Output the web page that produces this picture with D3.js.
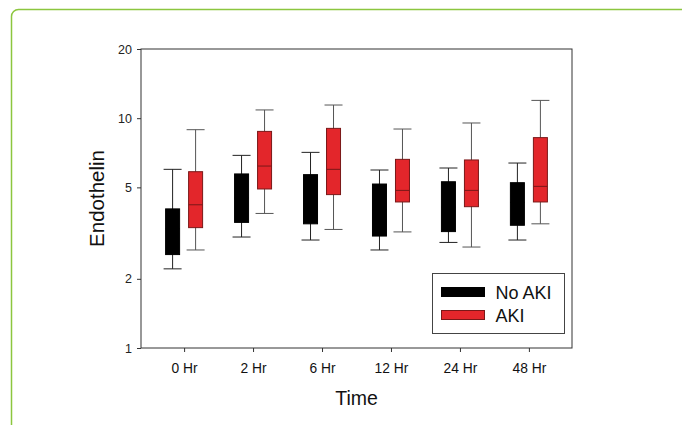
<!DOCTYPE html>
<html>
<head>
<meta charset="utf-8">
<script src="https://cdn.jsdelivr.net/npm/d3@7"></script>
<style>
  body { margin: 0; background: #fff; }
  text { font-family: "Liberation Sans", Arial, sans-serif; }
</style>
</head>
<body>
<div id="chart"></div>
<script>
const width = 682,
  height = 425;

const times = ["0 Hr", "2 Hr", "6 Hr", "12 Hr", "24 Hr", "48 Hr"];
const groups = ["No AKI", "AKI"];
const yTicks = [1, 2, 5, 10, 20];

// [whisker low, q1, median, q3, whisker high]
const noAki = [
  [2.21, 2.55, 3.3, 4.03, 5.99],
  [3.04, 3.52, 4.5, 5.72, 6.89],
  [2.95, 3.47, 4.5, 5.68, 7.1],
  [2.67, 3.07, 4.0, 5.17, 5.95],
  [2.88, 3.21, 4.1, 5.29, 6.07],
  [2.95, 3.42, 4.3, 5.24, 6.38]
];
const aki = [
  [2.67, 3.34, 4.2, 5.85, 8.91],
  [3.85, 4.92, 6.19, 8.76, 10.86],
  [3.28, 4.65, 5.99, 9.03, 11.41],
  [3.2, 4.32, 4.85, 6.62, 8.97],
  [2.75, 4.12, 4.85, 6.58, 9.53],
  [3.47, 4.32, 5.05, 8.23, 11.95]
];

const fills = ["#000000", "#e3262b"];
const strokes = ["#000000", "#7a1818"];
const whiskerColors = ["#222222", "#555555"];

const margin = { top: 49, right: 110, bottom: 77, left: 141 };
const plotW = width - margin.left - margin.right;
const plotH = height - margin.top - margin.bottom;

const svg = d3.select("#chart").append("svg").attr("width", width).attr("height", height);

// green card frame
svg
  .append("rect")
  .attr("x", 11.5)
  .attr("y", 9.5)
  .attr("width", 700)
  .attr("height", 440)
  .attr("rx", 7)
  .attr("fill", "none")
  .attr("stroke", "#8cc63f")
  .attr("stroke-width", 1.5);

const g = svg.append("g").attr("transform", `translate(${margin.left},${margin.top})`);

const x = d3.scalePoint().domain(times).range([0, plotW]).padding(0.625);
const y = d3.scaleLog().domain([1, 20]).range([plotH, 0]);

const offset = 11.5,
  boxW = 14,
  capW = 18;

// plot frame
g.append("rect")
  .attr("width", plotW)
  .attr("height", plotH)
  .attr("fill", "none")
  .attr("stroke", "#333")
  .attr("stroke-width", 1);

const yAxis = g
  .append("g")
  .call(d3.axisLeft(y).tickValues(yTicks).tickFormat(d3.format("d")).tickSize(4).tickPadding(5));
yAxis.select(".domain").remove();
yAxis.selectAll("line").attr("stroke", "#333");
yAxis.selectAll("text").attr("font-size", 12.5).attr("fill", "#222").style("font-family", "Liberation Sans, Arial, sans-serif");

const xAxis = g
  .append("g")
  .attr("transform", `translate(0,${plotH})`)
  .call(d3.axisBottom(x).tickSize(4).tickPadding(11));
xAxis.select(".domain").remove();
xAxis.selectAll("line").attr("stroke", "#333");
xAxis.selectAll("text").attr("font-size", 13.8).attr("fill", "#111").style("font-family", "Liberation Sans, Arial, sans-serif");

[noAki, aki].forEach((series, si) => {
  const dx = si === 0 ? -offset : offset;
  const bg = g
    .selectAll(`.box${si}`)
    .data(series.map((d, i) => ({ t: times[i], v: d })))
    .join("g")
    .attr("transform", d => `translate(${x(d.t) + dx},0)`);

  bg.append("line")
    .attr("y1", d => y(d.v[0]))
    .attr("y2", d => y(d.v[4]))
    .attr("stroke", whiskerColors[si]);
  [0, 4].forEach(k => {
    bg.append("line")
      .attr("x1", -capW / 2)
      .attr("x2", capW / 2)
      .attr("y1", d => y(d.v[k]))
      .attr("y2", d => y(d.v[k]))
      .attr("stroke", whiskerColors[si]);
  });
  bg.append("rect")
    .attr("x", -boxW / 2)
    .attr("width", boxW)
    .attr("y", d => y(d.v[3]))
    .attr("height", d => y(d.v[1]) - y(d.v[3]))
    .attr("fill", fills[si])
    .attr("stroke", strokes[si]);
  bg.append("line")
    .attr("x1", -boxW / 2)
    .attr("x2", boxW / 2)
    .attr("y1", d => y(d.v[2]))
    .attr("y2", d => y(d.v[2]))
    .attr("stroke", strokes[si]);
});

// axis titles
svg
  .append("text")
  .attr("transform", `translate(104,${margin.top + plotH / 2}) rotate(-90)`)
  .attr("text-anchor", "middle")
  .attr("font-size", 20.5)
  .attr("fill", "#111")
  .text("Endothelin");

svg
  .append("text")
  .attr("x", margin.left + plotW / 2)
  .attr("y", 405)
  .attr("text-anchor", "middle")
  .attr("font-size", 19.5)
  .attr("fill", "#111")
  .text("Time");

// legend
const lg = svg.append("g").attr("transform", "translate(432.5,273.5)");
lg.append("rect").attr("width", 132).attr("height", 60).attr("fill", "#fff").attr("stroke", "#444");
groups.forEach((name, i) => {
  lg.append("rect")
    .attr("x", 9)
    .attr("y", 14 + i * 23)
    .attr("width", 43)
    .attr("height", 9)
    .attr("fill", fills[i])
    .attr("stroke", strokes[i]);
  lg.append("text")
    .attr("x", 63)
    .attr("y", 25 + i * 23)
    .attr("font-size", 18)
    .attr("fill", "#111")
    .text(name);
});
</script>
</body>
</html>
